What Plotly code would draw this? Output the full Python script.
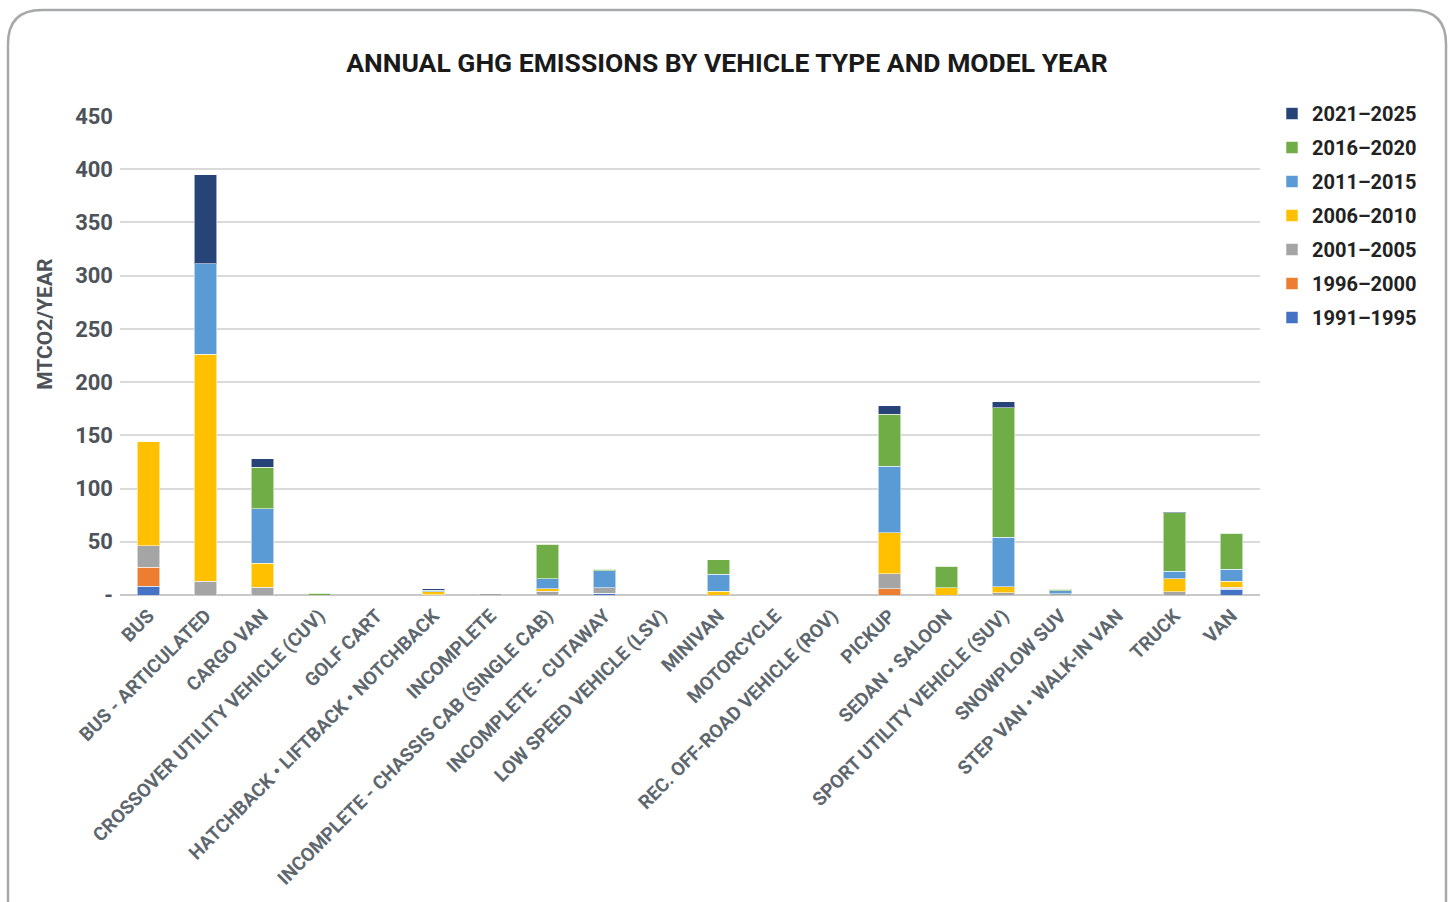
import plotly.graph_objects as go

categories = [
    "BUS", "BUS - ARTICULATED", "CARGO VAN", "CROSSOVER UTILITY VEHICLE (CUV)",
    "GOLF CART", "HATCHBACK • LIFTBACK • NOTCHBACK", "INCOMPLETE",
    "INCOMPLETE - CHASSIS CAB (SINGLE CAB)", "INCOMPLETE - CUTAWAY",
    "LOW SPEED VEHICLE (LSV)", "MINIVAN", "MOTORCYCLE",
    "REC. OFF-ROAD VEHICLE (ROV)", "PICKUP", "SEDAN • SALOON",
    "SPORT UTILITY VEHICLE (SUV)", "SNOWPLOW SUV", "STEP VAN • WALK-IN VAN",
    "TRUCK", "VAN",
]

# Annual emissions (MTCO2/year) per model-year band
y1991_1995 = [8, 0, 0, 0, 0, 0, 0, 0, 1.5, 0, 0, 0, 0, 0, 0, 0, 0, 0, 0, 5.5]
y1996_2000 = [18, 0, 0, 0, 0, 0, 0, 0, 0, 0, 0, 0, 0, 6, 0, 0, 0, 0, 0, 1]
y2001_2005 = [20.5, 13, 7.5, 0, 0, 0.3, 1.8, 3.5, 5.5, 0, 0, 0, 0, 14, 0, 2.3, 1.4, 0, 3, 1]
y2006_2010 = [98, 213, 22.5, 0, 0, 2.8, 0, 2.5, 0, 0, 3.3, 0, 0, 38.6, 6.8, 5.4, 0, 0, 12.5, 5.5]
y2011_2015 = [0, 85, 51, 0, 0, 1.0, 0, 9.5, 15.7, 0, 16.2, 0, 0, 62.4, 0, 46.6, 2.8, 0, 6.8, 11.2]
y2016_2020 = [0, 0, 39, 1.5, 0, 0.2, 0, 32, 1.5, 0, 13.8, 0, 0, 49, 20.2, 121.7, 1.0, 0, 55.1, 34]
y2021_2025 = [0, 84, 8, 0, 0, 1.5, 0, 0, 0, 0, 0, 0, 0, 8, 0, 5.6, 0, 0, 1, 0]

series = [
    ("1991–1995", y1991_1995, "#4472C4"),
    ("1996–2000", y1996_2000, "#ED7D31"),
    ("2001–2005", y2001_2005, "#A5A5A5"),
    ("2006–2010", y2006_2010, "#FFC000"),
    ("2011–2015", y2011_2015, "#5B9BD5"),
    ("2016–2020", y2016_2020, "#70AD47"),
    ("2021–2025", y2021_2025, "#264478"),
]

y_ticks = [0, 50, 100, 150, 200, 250, 300, 350, 400, 450]
y_tick_labels = ["-", "50", "100", "150", "200", "250", "300", "350", "400", "450"]

FONT = "Roboto, Liberation Sans, Arial, sans-serif"

W, H = 1450, 902
ML, MR, MT, MB = 120, 190, 116, 306.5
PW, PH = W - ML - MR, H - MT - MB


def px(x):
    return (x - ML) / PW


def py(y):
    return (H - MB - y) / PH


fig = go.Figure()
n = len(series)
for i, (name, vals, color) in enumerate(series):
    fig.add_trace(go.Bar(
        x=categories, y=vals, name=name, legendgroup=name, legendrank=n - i,
        marker=dict(color=color, line=dict(color="rgba(255,255,255,0.55)", width=1)),
    ))

# rounded frame around the chart
x0, y0, x1, y1, r = 8, 10, 1446, 930, 34
path = (
    f"M {px(x0)},{py(y0 + r)} "
    f"Q {px(x0)},{py(y0)} {px(x0 + r)},{py(y0)} "
    f"L {px(x1 - r)},{py(y0)} "
    f"Q {px(x1)},{py(y0)} {px(x1)},{py(y0 + r)} "
    f"L {px(x1)},{py(y1)} "
    f"M {px(x0)},{py(y0 + r)} L {px(x0)},{py(y1)}"
)
fig.add_shape(type="path", path=path, xref="paper", yref="paper",
              line=dict(color="#A6A8AB", width=2.5), layer="below")

# y-axis title, placed a little above the plot's vertical centre
fig.add_annotation(
    text="<b>MTCO2/YEAR</b>", textangle=-90,
    x=px(45), y=py(325), xref="paper", yref="paper",
    xanchor="center", yanchor="middle", showarrow=False,
    font=dict(family=FONT, size=21, color="#4D5359"),
)

fig.update_layout(
    width=W, height=H,
    margin=dict(l=ML, r=MR, t=MT, b=MB, pad=0),
    paper_bgcolor="white", plot_bgcolor="white",
    barmode="stack", bargap=0.6,
    font=dict(family=FONT, color="#4D5359"),
    title=dict(
        text="<b>ANNUAL GHG EMISSIONS BY VEHICLE TYPE AND MODEL YEAR</b>",
        x=px(727), xref="paper", xanchor="center",
        y=1 - 63 / H, yanchor="middle",
        font=dict(family=FONT, size=26.5, color="#1A1A1A"),
    ),
    xaxis=dict(
        tickangle=-45, showgrid=False, ticks="", automargin=False,
        ticklabelstandoff=5,
        tickfont=dict(family=FONT, size=19, color="#5E676E", weight="bold"),
        showline=False, zeroline=False,
    ),
    yaxis=dict(
        range=[0, 450], tickvals=y_ticks, ticktext=y_tick_labels, automargin=False,
        showgrid=True, gridcolor="#DADADA", gridwidth=1.5,
        zeroline=True, zerolinecolor="#C8C8C8", zerolinewidth=2,
        ticks="", ticklabelstandoff=6,
        tickfont=dict(family=FONT, size=22, color="#4D5359", weight="bold"),
    ),
    legend=dict(
        x=px(1272), y=py(94), xanchor="left", yanchor="top",
        traceorder="grouped", tracegroupgap=5,
        font=dict(family=FONT, size=20, color="#222222", weight="bold"),
        bgcolor="rgba(0,0,0,0)",
    ),
    showlegend=True,
)

fig.write_html("out.html")
